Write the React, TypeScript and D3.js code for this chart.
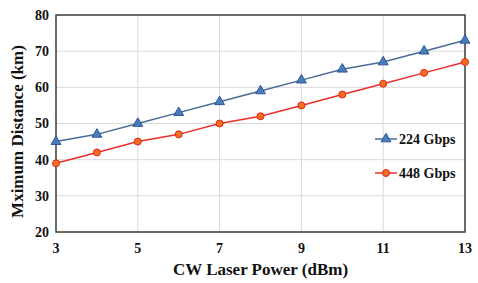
import React from "react";
import * as d3 from "d3";

const xValues = [3, 4, 5, 6, 7, 8, 9, 10, 11, 12, 13];
const series224 = [45, 47, 50, 53, 56, 59, 62, 65, 67, 70, 73];
const series448 = [39, 42, 45, 47, 50, 52, 55, 58, 61, 64, 67];
const xTicks = [3, 5, 7, 9, 11, 13];
const yTicks = [20, 30, 40, 50, 60, 70, 80];
const seriesNames = ["224 Gbps", "448 Gbps"];

const W = 478, H = 283;
const m = { left: 56, right: 13, top: 15, bottom: 51 };
const font = "Liberation Serif, Times New Roman, serif";

export default function App() {
  const x = d3.scaleLinear().domain([3, 13]).range([m.left, W - m.right]);
  const y = d3.scaleLinear().domain([20, 80]).range([H - m.bottom, m.top]);
  const line = d3.line<number>().x((_, i) => x(xValues[i])).y((d) => y(d));
  const tri = d3.symbol().type(d3.symbolTriangle).size(42)();

  const blueLine = "#4a6a96";
  const blueFill = "#4a7ebb";
  const blueStroke = "#2f5597";
  const redLine = "#e8302a";
  const redFill = "#f5701e";
  const redStroke = "#e02424";
  const ts = { fontFamily: font, fontWeight: 700 } as React.CSSProperties;

  return (
    <svg width={W} height={H} style={{ position: "absolute", left: 0, top: 0, background: "#fff" }}>
      {yTicks.map((t) => (
        <line key={"gy" + t} x1={m.left} x2={W - m.right} y1={y(t)} y2={y(t)} stroke="#d9d9d9" strokeWidth={1} />
      ))}
      {xTicks.map((t) => (
        <line key={"gx" + t} x1={x(t)} x2={x(t)} y1={m.top} y2={H - m.bottom} stroke="#d9d9d9" strokeWidth={1} />
      ))}
      <rect x={m.left} y={m.top} width={W - m.left - m.right} height={H - m.top - m.bottom} fill="none" stroke="#404040" strokeWidth={1.5} />
      {yTicks.map((t) => (
        <text key={"ty" + t} x={m.left - 7} y={y(t)} dy="0.35em" textAnchor="end" fontSize={14} style={ts} fill="#111">{t}</text>
      ))}
      {xTicks.map((t) => (
        <text key={"tx" + t} x={x(t)} y={H - m.bottom + 21} textAnchor="middle" fontSize={14} style={ts} fill="#111">{t}</text>
      ))}
      <text x={(m.left + W - m.right) / 2} y={275} textAnchor="middle" fontSize={17} style={ts} fill="#111">CW Laser Power (dBm)</text>
      <text transform={`translate(23,${(m.top + H - m.bottom) / 2 + 8}) rotate(-90)`} textAnchor="middle" fontSize={17} style={ts} fill="#111">Mximum Distance (km)</text>

      <path d={line(series224) || ""} fill="none" stroke={blueLine} strokeWidth={1.5} />
      <path d={line(series448) || ""} fill="none" stroke={redLine} strokeWidth={1.5} />
      {series224.map((v, i) => (
        <path key={"b" + i} d={tri || ""} transform={`translate(${x(xValues[i])},${y(v)})`} fill={blueFill} stroke={blueStroke} strokeWidth={1} />
      ))}
      {series448.map((v, i) => (
        <circle key={"r" + i} cx={x(xValues[i])} cy={y(v)} r={3.5} fill={redFill} stroke={redStroke} strokeWidth={1} />
      ))}

      <g>
        <line x1={375} x2={397} y1={139} y2={139} stroke={blueLine} strokeWidth={1.5} />
        <path d={tri || ""} transform="translate(386,139)" fill={blueFill} stroke={blueStroke} strokeWidth={1} />
        <text x={399} y={139} dy="0.35em" fontSize={14} style={ts} fill="#111">{seriesNames[0]}</text>
        <line x1={375} x2={397} y1={173} y2={173} stroke={redLine} strokeWidth={1.5} />
        <circle cx={386} cy={173} r={3.5} fill={redFill} stroke={redStroke} strokeWidth={1} />
        <text x={399} y={173} dy="0.35em" fontSize={14} style={ts} fill="#111">{seriesNames[1]}</text>
      </g>
    </svg>
  );
}
